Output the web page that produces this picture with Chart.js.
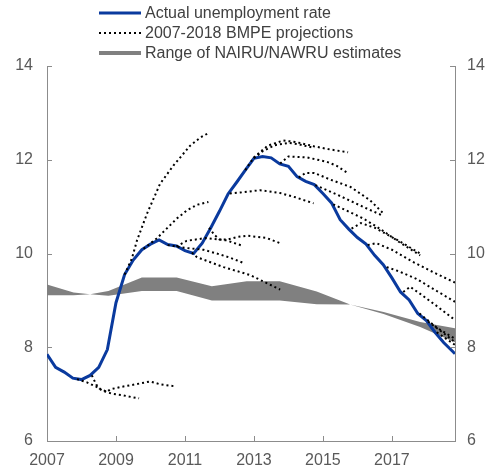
<!DOCTYPE html>
<html>
<head>
<meta charset="utf-8">
<script src="https://cdn.jsdelivr.net/npm/chart.js@4.4.1/dist/chart.umd.min.js"></script>
<style>
  html, body { margin: 0; padding: 0; background: #fff; }
</style>
</head>
<body>
<canvas id="chart" width="492" height="471"></canvas>
<script>
// actual unemployment rate, quarterly
const actualYears = [2007.0, 2007.25, 2007.5, 2007.75, 2008.0, 2008.25, 2008.5, 2008.75,
  2009.0, 2009.25, 2009.5, 2009.75, 2010.0, 2010.25, 2010.5, 2010.75,
  2011.0, 2011.25, 2011.5, 2011.75, 2012.0, 2012.25, 2012.5, 2012.75,
  2013.0, 2013.25, 2013.5, 2013.75, 2014.0, 2014.25, 2014.5, 2014.75,
  2015.0, 2015.25, 2015.5, 2015.75, 2016.0, 2016.25, 2016.5, 2016.75,
  2017.0, 2017.25, 2017.5, 2017.75, 2018.0, 2018.25, 2018.5, 2018.75, 2018.83];
const actualRate = [7.85, 7.57, 7.47, 7.34, 7.31, 7.40, 7.57, 7.95,
  8.95, 9.55, 9.86, 10.08, 10.20, 10.29, 10.19, 10.16,
  10.06, 10.00, 10.22, 10.55, 10.90, 11.27, 11.52, 11.78,
  12.03, 12.07, 12.04, 11.91, 11.86, 11.64, 11.54, 11.47,
  11.28, 11.08, 10.72, 10.52, 10.34, 10.20, 9.96, 9.76,
  9.48, 9.18, 9.01, 8.72, 8.57, 8.32, 8.10, 7.92, 7.86];

// NAIRU / NAWRU range
const nairuYears = [2007.0, 2007.77, 2008.25, 2008.78, 2009.75, 2010.76, 2011.78, 2012.79, 2013.75, 2014.82, 2015.79, 2016.76, 2017.82, 2018.85];
const nairuHigh  = [9.34, 9.17, 9.13, 9.20, 9.49, 9.49, 9.30, 9.41, 9.41, 9.19, 8.91, 8.75, 8.54, 8.40];
const nairuLow   = [9.11, 9.11, 9.13, 9.10, 9.20, 9.20, 9.00, 9.00, 9.00, 8.92, 8.91, 8.71, 8.43, 8.10];

// BMPE projection vintages: [year, rate]
const proj1  = [[2007.87, 7.32], [2008.16, 7.25], [2008.45, 7.15], [2008.59, 7.08], [2008.88, 7.01], [2009.17, 6.98], [2009.5, 6.93], [2009.67, 6.91]];
const proj2  = [[2008.3, 7.40], [2008.43, 7.20], [2008.52, 7.12], [2008.74, 7.05], [2008.83, 7.10], [2009.12, 7.15], [2009.5, 7.20], [2009.99, 7.27], [2010.28, 7.21], [2010.67, 7.17]];
const proj3  = [[2009.25, 9.55], [2009.46, 9.89], [2009.61, 10.28], [2009.9, 10.85], [2010.28, 11.49], [2010.67, 11.88], [2011.15, 12.30], [2011.44, 12.47], [2011.68, 12.57]];
const proj4  = [[2009.8, 10.10], [2010.18, 10.32], [2010.47, 10.53], [2010.77, 10.75], [2011.06, 10.92], [2011.35, 11.04], [2011.68, 11.10]];
const proj5  = [[2010.5, 10.18], [2011.0, 10.12], [2011.54, 10.08], [2011.92, 10.00], [2012.31, 9.91], [2012.69, 9.80]];
const proj6  = [[2010.75, 10.15], [2011.05, 10.27], [2011.6, 10.33], [2012.2, 10.28], [2012.69, 10.16]];
const proj7  = [[2011.2, 10.02], [2011.35, 9.92], [2012.12, 9.71], [2012.89, 9.54], [2013.76, 9.23]];
const proj8  = [[2011.7, 10.55], [2011.85, 10.40], [2012.0, 10.30], [2012.25, 10.30], [2012.5, 10.35], [2012.8, 10.38], [2013.37, 10.33], [2013.76, 10.22]];
const proj9  = [[2012.3, 11.28], [2012.6, 11.30], [2013.18, 11.35], [2013.76, 11.29], [2014.2, 11.20], [2014.73, 11.07]];
const proj10 = [[2012.75, 11.78], [2013.0, 12.05], [2013.4, 12.30], [2013.85, 12.41], [2014.2, 12.38], [2014.73, 12.29], [2015.2, 12.22], [2015.73, 12.16]];
const proj11 = [[2013.0, 12.03], [2013.25, 12.18], [2013.6, 12.31], [2014.0, 12.36], [2014.3, 12.33], [2014.75, 12.25]];
const proj12 = [[2013.76, 11.92], [2014.0, 12.07], [2014.53, 12.05], [2015.1, 11.96], [2015.4, 11.87], [2015.73, 11.71]];
const proj13 = [[2014.3, 11.62], [2014.5, 11.72], [2014.75, 11.72], [2015.2, 11.58], [2015.8, 11.42], [2016.36, 11.14], [2016.76, 10.85]];
const proj14 = [[2014.78, 11.46], [2015.4, 11.26], [2016.27, 10.96], [2016.76, 10.80]];
const proj15 = [[2015.3, 11.05], [2016.16, 10.75], [2016.65, 10.53], [2017.2, 10.25], [2017.82, 9.96]];
const proj16 = [[2015.83, 10.53], [2016.1, 10.65], [2016.5, 10.55], [2017.2, 10.27], [2017.82, 10.00]];
const proj17 = [[2016.3, 10.18], [2016.55, 10.22], [2017.0, 10.08], [2017.61, 9.82], [2018.2, 9.60], [2018.83, 9.38]];
const proj18 = [[2016.85, 9.71], [2017.2, 9.62], [2017.71, 9.46], [2018.3, 9.20], [2018.83, 8.97]];
const proj19 = [[2017.33, 9.18], [2017.53, 9.29], [2017.8, 9.15], [2018.3, 8.88], [2018.83, 8.58]];
const proj20 = [[2017.8, 8.72], [2018.3, 8.42], [2018.83, 8.18]];
const proj21 = [[2018.05, 8.55], [2018.5, 8.30], [2018.83, 8.11]];
const proj22 = [[2018.3, 8.32], [2018.83, 8.05]];
const projections = [proj1, proj2, proj3, proj4, proj5, proj6, proj7, proj8, proj9, proj10, proj11,
  proj12, proj13, proj14, proj15, proj16, proj17, proj18, proj19, proj20, proj21, proj22];

const xTicks = [2007, 2009, 2011, 2013, 2015, 2017];
const legendLabels = ["Actual unemployment rate", "2007-2018 BMPE projections", "Range of NAIRU/NAWRU estimates"];

const BLUE = "#0a3a9e";
const GREY = "#808080";
const AXIS = "#8c8c8c";
const FONT = "'Liberation Sans', Arial, sans-serif";

const datasets = [];
projections.forEach(p => {
    datasets.push({
        data: p.map(d => ({ x: d[0], y: d[1] })),
        borderColor: "#000",
        borderWidth: 2,
        borderDash: [2, 3],
        pointRadius: 0,
        fill: false,
        order: 0
    });
});
datasets.push({
    data: actualYears.map((x, i) => ({ x: x, y: actualRate[i] })),
    borderColor: BLUE,
    borderWidth: 3,
    pointRadius: 0,
    fill: false,
    order: 1
});
datasets.push({
    data: nairuYears.map((x, i) => ({ x: x, y: nairuHigh[i] })),
    borderWidth: 0,
    borderColor: "rgba(0,0,0,0)",
    backgroundColor: GREY,
    pointRadius: 0,
    fill: "+1",
    order: 2
});
datasets.push({
    data: nairuYears.map((x, i) => ({ x: x, y: nairuLow[i] })),
    borderWidth: 0,
    borderColor: "rgba(0,0,0,0)",
    pointRadius: 0,
    fill: false,
    order: 3
});

// small inward tick marks
const tickMarks = {
    id: "tickMarks",
    afterDraw(chart) {
        const ctx = chart.ctx;
        const a = chart.chartArea;
        ctx.save();
        ctx.strokeStyle = AXIS;
        ctx.lineWidth = 1;
        ctx.beginPath();
        chart.scales.x.ticks.forEach(t => {
            const px = Math.round(chart.scales.x.getPixelForValue(t.value)) + 0.5;
            ctx.moveTo(px, a.bottom);
            ctx.lineTo(px, a.bottom - 5);
        });
        chart.scales.y.ticks.forEach(t => {
            const py = Math.round(chart.scales.y.getPixelForValue(t.value)) + 0.5;
            ctx.moveTo(a.left, py);
            ctx.lineTo(a.left + 5, py);
            ctx.moveTo(a.right, py);
            ctx.lineTo(a.right - 5, py);
        });
        ctx.stroke();
        ctx.restore();
    }
};

// legend stacked in three rows above the plot
const stackedLegend = {
    id: "stackedLegend",
    afterDraw(chart) {
        const ctx = chart.ctx;
        const rows = [13, 33, 53];
        ctx.save();
        ctx.font = "16px " + FONT;
        ctx.textBaseline = "middle";
        ctx.fillStyle = "#404040";
        rows.forEach((y, i) => {
            ctx.beginPath();
            ctx.setLineDash(i === 1 ? [2, 3] : []);
            ctx.lineWidth = i === 0 ? 3 : (i === 1 ? 2 : 4);
            ctx.strokeStyle = i === 0 ? BLUE : (i === 1 ? "#000" : GREY);
            ctx.moveTo(99, y);
            ctx.lineTo(141, y);
            ctx.stroke();
            ctx.fillText(legendLabels[i], 145, y + 1);
        });
        ctx.restore();
    }
};

const tickFont = { family: FONT, size: 16 };

new Chart(document.getElementById("chart"), {
    type: "line",
    data: { datasets: datasets },
    options: {
        responsive: false,
        animation: false,
        devicePixelRatio: 1,
        layout: { padding: { top: 66, left: 0, right: 0, bottom: 0 } },
        plugins: {
            legend: { display: false },
            tooltip: { enabled: false }
        },
        elements: { line: { tension: 0 } },
        scales: {
            x: {
                type: "linear",
                min: 2007,
                max: 2018.83,
                afterBuildTicks: s => { s.ticks = xTicks.map(v => ({ value: v })); },
                afterFit: s => { s.height = 30; },
                grid: { display: false, drawTicks: false },
                border: { display: true, color: AXIS, width: 1 },
                ticks: { color: "#595959", font: tickFont, padding: 10, maxRotation: 0, autoSkip: false, callback: v => String(v) }
            },
            y: {
                position: "left",
                min: 6,
                max: 14,
                ticks: { stepSize: 2, color: "#595959", font: tickFont, padding: 14 },
                afterFit: s => { s.width = 47; },
                grid: { display: false, drawTicks: false },
                border: { display: true, color: AXIS, width: 1 }
            },
            y2: {
                position: "right",
                min: 6,
                max: 14,
                ticks: { stepSize: 2, color: "#595959", font: tickFont, padding: 12 },
                afterFit: s => { s.width = 37; },
                grid: { display: false, drawTicks: false },
                border: { display: true, color: AXIS, width: 1 }
            }
        }
    },
    plugins: [tickMarks, stackedLegend]
});
</script>
</body>
</html>
